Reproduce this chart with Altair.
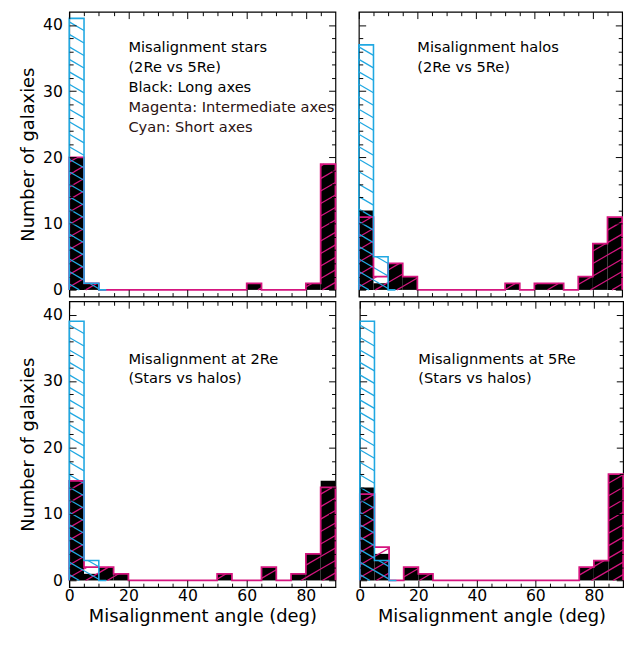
import math
import altair as alt
import pandas as pd

# 5-degree bins from 0 to 90 deg
EDGES = [0, 5, 10, 15, 20, 25, 30, 35, 40, 45, 50, 55, 60, 65, 70, 75, 80, 85, 90]

# Galaxy counts per bin: long (black), intermediate (magenta), short (cyan) axes
stars_long = [20, 1, 0, 0, 0, 0, 0, 0, 0, 0, 0, 0, 1, 0, 0, 0, 1, 19]
stars_inter = [20, 1, 0, 0, 0, 0, 0, 0, 0, 0, 0, 0, 1, 0, 0, 0, 1, 19]
stars_short = [41, 1, 0, 0, 0, 0, 0, 0, 0, 0, 0, 0, 0, 0, 0, 0, 0, 0]

halos_long = [12, 1, 4, 2, 0, 0, 0, 0, 0, 0, 1, 0, 1, 1, 0, 2, 7, 11]
halos_inter = [11, 2, 4, 2, 0, 0, 0, 0, 0, 0, 1, 0, 1, 1, 0, 2, 7, 11]
halos_short = [37, 5, 0, 0, 0, 0, 0, 0, 0, 0, 0, 0, 0, 0, 0, 0, 0, 0]

at2_long = [15, 1, 2, 1, 0, 0, 0, 0, 0, 0, 1, 0, 0, 2, 0, 1, 4, 15]
at2_inter = [15, 2, 2, 1, 0, 0, 0, 0, 0, 0, 1, 0, 0, 2, 0, 1, 4, 14]
at2_short = [39, 3, 0, 0, 0, 0, 0, 0, 0, 0, 0, 0, 0, 0, 0, 0, 0, 0]

at5_long = [14, 4, 0, 2, 1, 0, 0, 0, 0, 0, 0, 0, 0, 0, 0, 2, 3, 16]
at5_inter = [13, 5, 0, 2, 1, 0, 0, 0, 0, 0, 0, 0, 0, 0, 0, 2, 3, 16]
at5_short = [39, 3, 0, 0, 0, 0, 0, 0, 0, 0, 0, 0, 0, 0, 0, 0, 0, 0]

notes_stars = ["Misalignment stars", "(2Re vs 5Re)", "Black: Long axes",
               "Magenta: Intermediate axes", "Cyan: Short axes"]
notes_halos = ["Misalignment halos", "(2Re vs 5Re)"]
notes_2re = ["Misalignment at 2Re", "(Stars vs halos)"]
notes_5re = ["Misalignments at 5Re", "(Stars vs halos)"]

X_TICKS = [0, 5, 10, 15, 20, 25, 30, 35, 40, 45, 50, 55, 60, 65, 70, 75, 80, 85]
Y_TICKS = [0, 2, 4, 6, 8, 10, 12, 14, 16, 18, 20, 22, 24, 26, 28, 30,
           32, 34, 36, 38, 40]
X_MAJOR_STEP = 20
Y_MAJOR_STEP = 10

X_DOMAIN = [0, 90]
Y_DOMAIN = [-1, 42]

BLACK = "#000000"
MAGENTA = "#d5157f"
CYAN = "#20a8e2"
FONT = "DejaVu Sans"

TICK = 7      # major tick length; minor ticks show only the inner 4 px
MINOR_DASH = [0, 3, 4, 30]


def hatch(counts, sx, sy, direction, spacing=12.8, slope=0.58, phase=0.0):
    """Diagonal hatch segments clipped to each histogram bar (pixel space -> data)."""
    rows = []
    for i, h in enumerate(counts):
        if h <= 0:
            continue
        x0, x1, top = EDGES[i] * sx, EDGES[i + 1] * sx, h * sy
        if direction > 0:
            cmin, cmax = -slope * x1, top - slope * x0
        else:
            cmin, cmax = slope * x0, top + slope * x1
        k0 = math.ceil((cmin - phase) / spacing)
        k1 = math.floor((cmax - phase) / spacing)
        for k in range(k0, k1 + 1):
            c = k * spacing + phase
            if direction > 0:
                xa, xb = -c / slope, (top - c) / slope
            else:
                xa, xb = (c - top) / slope, c / slope
            xa, xb = max(x0, xa), min(x1, xb)
            if xb - xa < 0.4:
                continue
            ya = direction * slope * xa + c
            yb = direction * slope * xb + c
            rows.append({"x": xa / sx, "x2": xb / sx, "y": ya / sy, "y2": yb / sy})
    return pd.DataFrame(rows)


def outline(counts, trim=False):
    """Step outline of a histogram."""
    n = len(counts)
    if trim:
        n = max(i for i, c in enumerate(counts) if c > 0) + 1
    pts = [(EDGES[0], 0)]
    for i in range(n):
        pts += [(EDGES[i], counts[i]), (EDGES[i + 1], counts[i])]
    pts.append((EDGES[n], 0))
    if trim:
        pts.append((EDGES[n] + 2.5, 0))
    return pd.DataFrame([{"x": x, "y": y, "o": k} for k, (x, y) in enumerate(pts)])


def bars(counts):
    return pd.DataFrame([{"x": EDGES[i], "x2": EDGES[i + 1], "y": 0, "y2": c}
                         for i, c in enumerate(counts) if c > 0])


def ax(orient, values, step, labels=False, title=None, pad=0):
    """Inward-pointing box axis: one per side, minor ticks drawn shorter via dash."""
    kw = dict(orient=orient, values=values, tickSize=TICK, offset=-TICK,
              domain=False, grid=False, labels=labels, ticks=True,
              tickColor="#000", tickWidth=1, zindex=1,
              minExtent=0, maxExtent=200,
              tickDash={"condition": {"test": f"datum.value % {step} !== 0",
                                      "value": MINOR_DASH},
                        "value": []})
    if labels:
        kw["labelPadding"] = pad
        kw["labelFlush"] = False
        kw["labelExpr"] = f"datum.value % {step} === 0 ? datum.label : ''"
        kw["labelFontSize"] = {"condition": {"test": f"datum.value % {step} !== 0",
                                             "value": 0},
                               "value": 16}
    if title:
        kw["title"] = title
        kw["titlePadding"] = 4 if orient == "bottom" else 5
    else:
        kw["title"] = None
    return alt.Axis(**kw)


def panel(long_, inter, short, notes, W, H, xlab, ylab):
    sx = W / (X_DOMAIN[1] - X_DOMAIN[0])
    sy = H / (Y_DOMAIN[1] - Y_DOMAIN[0])
    xs = alt.Scale(domain=X_DOMAIN, nice=False, zero=False)
    ys = alt.Scale(domain=Y_DOMAIN, nice=False, zero=False)

    bottom = ax("bottom", X_TICKS, X_MAJOR_STEP, xlab,
                "Misalignment angle (deg)" if xlab else None, 1)
    left = ax("left", Y_TICKS, Y_MAJOR_STEP, ylab,
              "Number of galaxies" if ylab else None, 7)
    top = ax("top", X_TICKS, X_MAJOR_STEP)
    right = ax("right", Y_TICKS, Y_MAJOR_STEP)

    black = alt.Chart(bars(long_)).mark_rect(color=BLACK).encode(
        x=alt.X("x:Q", scale=xs, axis=bottom), x2="x2",
        y=alt.Y("y:Q", scale=ys, axis=left), y2="y2")

    mag_h = alt.Chart(hatch(inter, sx, sy, +1, phase=3.0)).mark_rule(
        color=MAGENTA, strokeWidth=1.3).encode(
        x=alt.X("x:Q", scale=xs, axis=top), x2="x2",
        y=alt.Y("y:Q", scale=ys, axis=right), y2="y2")

    cya_h = alt.Chart(hatch(short, sx, sy, -1, phase=6.0)).mark_rule(
        color=CYAN, strokeWidth=1.3).encode(
        x=alt.X("x:Q", scale=xs, axis=None), x2="x2",
        y=alt.Y("y:Q", scale=ys, axis=None), y2="y2")

    mag_l = alt.Chart(outline(inter)).mark_line(
        color=MAGENTA, strokeWidth=1.8, strokeJoin="miter").encode(
        x=alt.X("x:Q", scale=xs, axis=None),
        y=alt.Y("y:Q", scale=ys, axis=None),
        order="o:Q")

    cya_l = alt.Chart(outline(short, trim=True)).mark_line(
        color=CYAN, strokeWidth=1.6, strokeJoin="miter").encode(
        x=alt.X("x:Q", scale=xs, axis=None),
        y=alt.Y("y:Q", scale=ys, axis=None),
        order="o:Q")

    ytop = 36.6
    note_df = pd.DataFrame([
        {"x": 20, "y": ytop - 3.0 * k, "t": t,
         "c": "#2a1212" if t.startswith(("Magenta", "Cyan")) else "#000000"}
        for k, t in enumerate(notes)])
    if len(notes) == 2 and H > 292:
        note_df["y"] = [33.3, 30.4]
    text = alt.Chart(note_df).mark_text(
        align="left", baseline="middle", font=FONT, fontSize=15, clip=True).encode(
        x=alt.X("x:Q", scale=xs, axis=None),
        y=alt.Y("y:Q", scale=ys, axis=None),
        text="t:N", color=alt.Color("c:N", scale=None))

    return alt.layer(black, mag_h, cya_h, mag_l, cya_l, text).resolve_axis(
        x="independent", y="independent").properties(width=W, height=H)


tl = panel(stars_long, stars_inter, stars_short, notes_stars, 273, 292, False, True)
tr = panel(halos_long, halos_inter, halos_short, notes_halos, 270, 292, False, False)
bl = panel(at2_long, at2_inter, at2_short, notes_2re, 273, 293, True, True)
br = panel(at5_long, at5_inter, at5_short, notes_5re, 270, 293, True, False)

# the page body keeps a margin above the chart, so the top padding is trimmed
chart = alt.vconcat(
    alt.hconcat(tl, tr, spacing=14),
    alt.hconcat(bl, br, spacing=14),
    spacing=1,
).properties(
    padding={"left": 19, "top": 2, "right": 0, "bottom": 0},
    background="white",
).configure_view(
    stroke="#000000", strokeWidth=1.2
).configure_axis(
    labelFont=FONT, labelFontSize=16, labelColor="#000",
    titleFont=FONT, titleFontSize=18.3, titleFontWeight="normal", titleColor="#000",
)

chart.save("out.html", embed_options={"renderer": "svg", "actions": False})
